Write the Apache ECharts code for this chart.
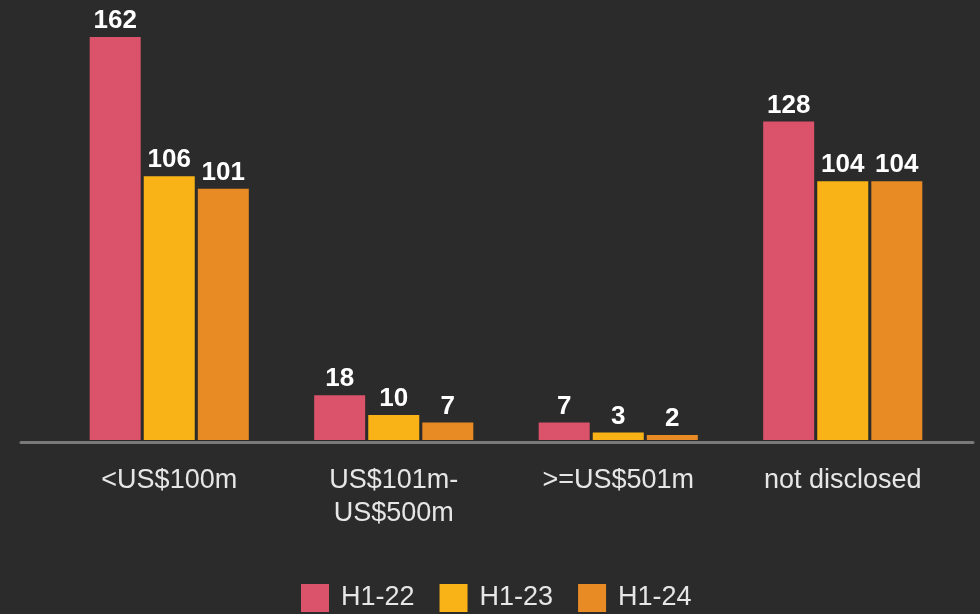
<!DOCTYPE html>
<html>
<head>
<meta charset="utf-8">
<script src="https://cdn.jsdelivr.net/npm/echarts@6/dist/echarts.min.js"></script>
<style>
  html, body { margin: 0; padding: 0; background: #2b2b2b; }
  #chart { width: 980px; height: 614px; }
</style>
</head>
<body>
<div id="chart"></div>
<script>
var categories = ["<US$100m", "US$101m-\nUS$500m", ">=US$501m", "not disclosed"];
var h122 = [162, 18, 7, 128];
var h123 = [106, 10, 3, 104];
var h124 = [101, 7, 2, 104];
var seriesNames = ["H1-22", "H1-23", "H1-24"];
var colors = ["#db536b", "#fab317", "#e98b24"];

var myChart = echarts.init(document.getElementById("chart"));

function makeSeries(name, data, color) {
  return {
    name: name,
    type: "bar",
    data: data,
    xAxisIndex: 0,
    yAxisIndex: 0,
    barWidth: 51,
    barGap: "6%",
    itemStyle: { color: color },
    z: 3,
    label: {
      show: true,
      position: "top",
      distance: 3,
      color: "#ffffff",
      fontSize: 26,
      fontWeight: "bold",
      fontFamily: "Liberation Sans, Arial, sans-serif"
    }
  };
}

var option = {
  backgroundColor: "#2b2b2b",
  animation: false,
  legend: {
    bottom: -3,
    left: 296,
    icon: "rect",
    itemWidth: 28,
    itemHeight: 28,
    itemGap: 25,
    data: seriesNames,
    textStyle: {
      color: "#e6e6e6",
      fontSize: 27,
      fontFamily: "Liberation Sans, Arial, sans-serif",
      padding: [0, 0, 0, 7]
    }
  },
  grid: [
    { left: 57, right: 25, top: 17, bottom: 174 },
    // baseline only, spans wider than the bars
    { left: 21, right: 7, top: 17, bottom: 172 }
  ],
  xAxis: [
    {
      type: "category",
      gridIndex: 0,
      data: categories,
      axisLine: { show: false },
      axisTick: { show: false },
      axisLabel: {
        color: "#e6e6e6",
        fontSize: 27,
        fontFamily: "Liberation Sans, Arial, sans-serif",
        margin: 24,
        lineHeight: 33,
        interval: 0
      }
    },
    {
      type: "category",
      gridIndex: 1,
      data: [""],
      axisLine: { show: true, lineStyle: { color: "#7a7a7a", width: 3 } },
      axisTick: { show: false },
      axisLabel: { show: false }
    }
  ],
  yAxis: [
    { type: "value", gridIndex: 0, min: 0, max: 170, show: false },
    { type: "value", gridIndex: 1, min: 0, max: 1, show: false }
  ],
  series: [
    makeSeries(seriesNames[0], h122, colors[0]),
    makeSeries(seriesNames[1], h123, colors[1]),
    makeSeries(seriesNames[2], h124, colors[2])
  ]
};

myChart.setOption(option);
</script>
</body>
</html>
